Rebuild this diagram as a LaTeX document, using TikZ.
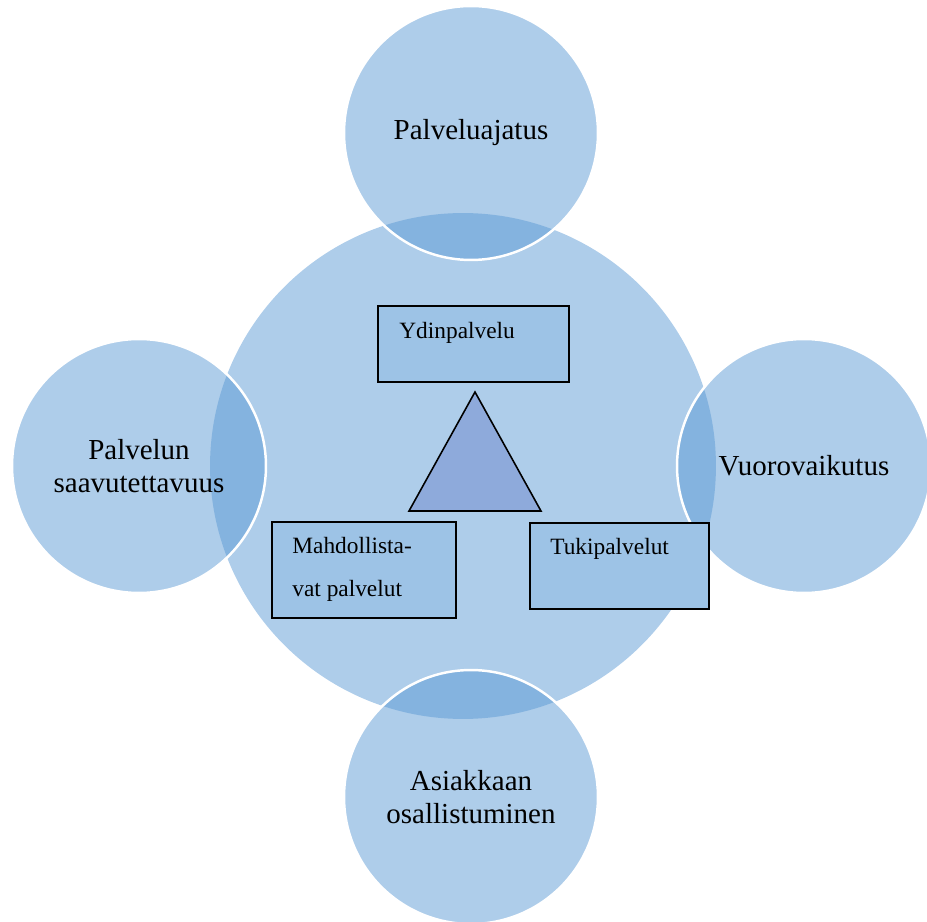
\documentclass[tikz,border=0pt]{standalone}
\usepackage{fontspec}
\setmainfont{Liberation Serif}
\usetikzlibrary{positioning,calc}
\definecolor{RingBlue}{HTML}{AECDEA}
\definecolor{RingDeep}{HTML}{84B3DF}
\definecolor{BoxBlue}{HTML}{9DC3E6}
\definecolor{TriBlue}{HTML}{8EAADB}

\begin{document}
\begin{tikzpicture}[x=0.02cm,y=-0.02cm,
  hub/.style={circle,fill=RingBlue,minimum size=10.12cm,inner sep=0pt},
  ring/.style={circle,fill=RingBlue,minimum size=5.08cm,inner sep=0pt},
  ringtext/.style={align=center,inner sep=0pt,font=\fontsize{16.5}{18.5}\selectfont},
  box/.style={draw=black,line width=1.1pt,fill=BoxBlue,inner sep=0pt,anchor=north west},
  boxtext/.style={anchor=base west,align=left,inner sep=0pt,font=\fontsize{13.3}{24.4}\selectfont},
]
\useasboundingbox (0,0) rectangle (927,922);

% circles
\node[hub] (hub) at (463,466) {};
\node[ring] (top) at (471,133) {};
\node[ring] (left) at (139,466) {};
\node[ring] (right) at (804,466) {};
\node[ring] (bottom) at (471,797) {};

% overlaps
\begin{scope}
  \clip (hub.center) circle[radius=5.06cm];
  \foreach \r in {top,left,right,bottom}
    \fill[RingDeep] (\r.center) circle[radius=2.54cm];
\end{scope}
\foreach \r in {top,left,right,bottom}
  \draw[white,line width=1.4pt] (\r.center) circle[radius=2.54cm];

\node[ringtext] at (top) {Palveluajatus};
\node[ringtext] at (left) {Palvelun\\saavutettavuus};
\node[ringtext] at (right) {Vuorovaikutus};
\node[ringtext] at (bottom) {Asiakkaan\\osallistuminen};

% triangle and boxes
\draw[fill=TriBlue,line width=0.9pt,line join=miter] (475,392) -- (541,511) -- (409,511) -- cycle;

\node[box,minimum width=3.82cm,minimum height=1.52cm] (core) at (377,305) {};
\node[box,minimum width=3.68cm,minimum height=1.92cm] (enabling) at (271,521) {};
\node[box,minimum width=3.58cm,minimum height=1.72cm] (support) at (529,522) {};

\node[boxtext] at ([shift={(22,33)}]core.north west) {Ydinpalvelu};
\node[boxtext] at ([shift={(21,75)}]enabling.north west) {Mahdollista-\\vat palvelut};
\node[boxtext] at ([shift={(21,32)}]support.north west) {Tukipalvelut};
\end{tikzpicture}
\end{document}
